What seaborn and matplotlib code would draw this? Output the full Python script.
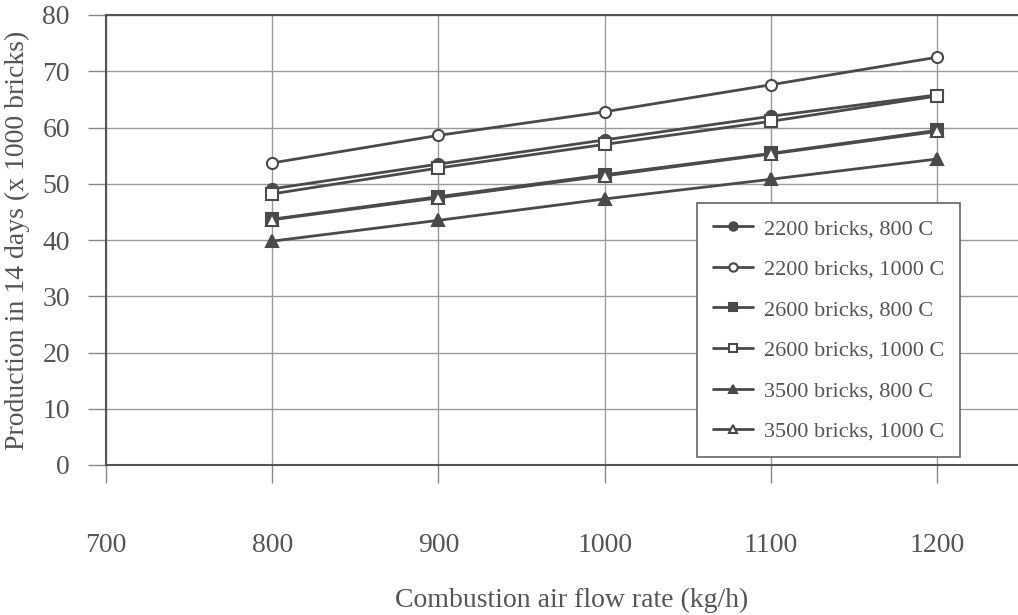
import seaborn as sns
import matplotlib.pyplot as plt
import pandas as pd

# air flow rate (kg/h)
flow = [800, 900, 1000, 1100, 1200]

# production in 14 days (x 1000 bricks)
b2200_800 = [49.1, 53.5, 57.8, 62.0, 65.8]
b2200_1000 = [53.7, 58.6, 62.8, 67.6, 72.5]
b2600_800 = [43.7, 47.7, 51.6, 55.4, 59.5]
b2600_1000 = [48.2, 52.8, 57.0, 61.1, 65.6]
b3500_800 = [39.8, 43.5, 47.3, 50.8, 54.4]
b3500_1000 = [43.6, 47.5, 51.4, 55.3, 59.3]

labels = ['2200 bricks, 800 C', '2200 bricks, 1000 C',
          '2600 bricks, 800 C', '2600 bricks, 1000 C',
          '3500 bricks, 800 C', '3500 bricks, 1000 C']
series = [b2200_800, b2200_1000, b2600_800, b2600_1000, b3500_800, b3500_1000]
markers = ['o', 'o', 's', 's', '^', '^']
filled = [True, False, True, False, True, False]

sns.set_style('white')
plt.rcParams['font.family'] = ['Liberation Serif', 'DejaVu Serif']

ink = '#555555'
line_col = '#4a4a4a'

fig = plt.figure(figsize=(10.18, 6.15), dpi=100)
ax = fig.add_axes([106 / 1018, 1 - 465 / 615, 931 / 1018, 450 / 615])

for lab, vals, m, f in zip(labels, series, markers, filled):
    df = pd.DataFrame({'flow': flow, 'prod': vals})
    sns.lineplot(data=df, x='flow', y='prod', ax=ax, label=lab,
                 color=line_col, linewidth=2, marker=m, markersize=8,
                 markerfacecolor=line_col if f else 'white',
                 markeredgecolor=line_col, markeredgewidth=1.5)

ax.set_xlim(700, 1260)
ax.set_ylim(0, 80)
ax.set_xticks([700, 800, 900, 1000, 1100, 1200])
ax.set_yticks(range(0, 81, 10))
ax.grid(True, color='#9a9a9a', linewidth=1)
for s in ax.spines.values():
    s.set_color('#555555')
    s.set_linewidth(1.5)

ax.tick_params(axis='x', direction='out', length=13, width=1, color='#888888',
               pad=36, labelsize=20, labelcolor=ink, bottom=True)
ax.tick_params(axis='y', direction='out', length=13, width=1, color='#888888',
               pad=13, labelsize=20, labelcolor=ink, left=True)

ax.set_xlabel('Combustion air flow rate (kg/h)', fontsize=20, color=ink)
ax.set_ylabel('Production in 14 days (x 1000 bricks)', fontsize=20, color=ink)
ax.xaxis.set_label_coords(0.5, -0.272)
ax.yaxis.set_label_coords(-0.082, 0.5)

leg = ax.legend(loc='upper left', bbox_to_anchor=((697 - 106) / 931, (465 - 203) / 450),
                fontsize=16, frameon=True, fancybox=False, shadow=False,
                labelspacing=0.9, handlelength=1.8, handletextpad=0.5,
                borderpad=0.7, borderaxespad=0, markerscale=0.75)
leg.get_frame().set_edgecolor('#666666')
leg.get_frame().set_linewidth(1.2)
leg.get_frame().set_alpha(1)
for t in leg.get_texts():
    t.set_color(ink)

fig.savefig('out.png', dpi=100)
